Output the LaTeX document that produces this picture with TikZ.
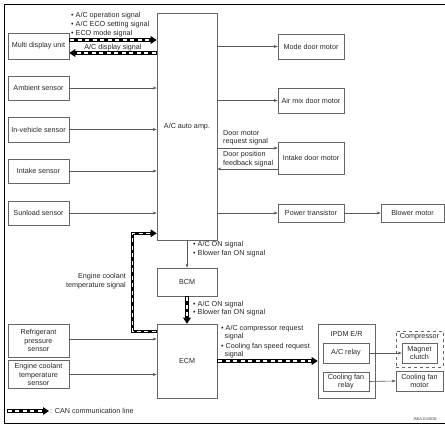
\documentclass[tikz,border=0pt]{standalone}
\usepackage{fontspec}
\setmainfont{Liberation Sans}
\usetikzlibrary{arrows.meta,calc}
\newcommand{\fsz}{\fontsize{7.2}{8.5}\selectfont}
\tikzset{
  box/.style={draw=black!60, line width=0.6pt, minimum width=61pt, minimum height=25pt,
    inner sep=1pt, align=center, font=\fsz, text=black!85},
  lbl/.style={inner sep=0pt, font=\fsz, text=black!85},
  arr/.style={draw=black!65, line width=0.6pt, -{Stealth[length=4pt,width=3pt]}},
  can/.style={line width=3.2pt, -{Triangle[length=6pt,width=7.5pt]},
    postaction={draw=white, line width=1.3pt, dash pattern=on 4pt off 3.5pt, -, shorten >=7pt, shorten <=0.9pt}},
}
\begin{document}
\begin{tikzpicture}[x=1pt,y=-1pt]
\useasboundingbox (0,0) rectangle (445,427);
\draw[line width=0.9pt] (445,4) -- (4,4) -- (4,423) -- (445,423);

% left column
\node[box, minimum height=26pt] (mdu) at (38.5,46) {Multi display unit};
\node[box, minimum height=24pt] (amb) at (38.5,88) {Ambient sensor};
\node[box] (inv) at (38.5,129.5) {In-vehicle sensor};
\node[box, minimum height=24pt] (intk) at (38.5,171) {Intake sensor};
\node[box, minimum height=24pt] (sun) at (38.5,213) {Sunload sensor};
\node[box, minimum height=33pt] (refr) at (38.5,340.5) {Refrigerant\\pressure\\sensor};
\node[box, minimum height=28pt] (ects) at (38.5,374.5) {Engine coolant\\temperature\\sensor};

% center column
\node[box, minimum width=60pt, minimum height=227pt] (amp) at (187,126.5) {A/C auto amp.};
\node[box, minimum width=60pt, minimum height=28pt] (bcm) at (187,282) {BCM};
\node[box, minimum width=60pt, minimum height=74pt] (ecm) at (187,361) {ECM};

% right column
\node[box, minimum width=66pt] (mode) at (311,46.5) {Mode door motor};
\node[box, minimum width=66pt] (airmix) at (311,100.5) {Air mix door motor};
\node[box, minimum width=66pt, minimum height=32pt] (idm) at (311,158) {Intake door motor};
\node[box, minimum width=66pt, minimum height=18pt] (pt) at (311,213) {Power transistor};
\node[box, minimum width=63pt, minimum height=18pt] (blower) at (412.5,213) {Blower motor};

% IPDM and compressor
\node[box, minimum width=57pt, minimum height=74pt] (ipdm) at (346.5,361) {};
\node[lbl] (ipdml) at (346.5,334) {IPDM E/R};
\node[box, minimum width=46pt, minimum height=20pt] (acr) at (346,353) {A/C relay};
\node[box, minimum width=46pt, minimum height=19pt] (cfr) at (346,381.5) {Cooling fan\\relay};
\node[box, dashed, minimum width=47pt, minimum height=36pt] (comp) at (419.5,349) {};
\node[lbl] (compl) at (419.5,337) {Compressor};
\node[box, minimum width=35pt, minimum height=20pt] (mag) at (419.5,353) {Magnet\\clutch};
\node[box, minimum width=47pt, minimum height=20pt] (cfm) at (419.5,381) {Cooling fan\\motor};

% sensor arrows into amp
\draw[arr] (amb.east) -- (amb.east -| amp.west);
\draw[arr] (inv.east) -- (inv.east -| amp.west);
\draw[arr] (intk.east) -- (intk.east -| amp.west);
\draw[arr] (sun.east) -- (sun.east -| amp.west);
\draw[arr] (refr.east) ++(0,-1.5) coordinate (refrE) -- (refrE -| ecm.west);
\draw[arr] (ects.east) -- (ects.east -| ecm.west);

% amp to actuators
\draw[arr] (mode.west -| amp.east) -- (mode.west);
\draw[arr] (airmix.west -| amp.east) -- (airmix.west);
\coordinate (idmR) at ($(idm.west)+(0,-10)$);
\coordinate (idmF) at ($(idm.west)+(0,11)$);
\draw[arr] (idmR -| amp.east) -- (idmR);
\draw[arr] (idmF) -- (idmF -| amp.east);
\draw[arr] (pt.west -| amp.east) -- (pt.west);
\draw[arr] (pt.east) -- (blower.west);
\draw[arr] (amp.south -| bcm.north) -- (bcm.north);
\draw[arr] (acr.east) -- (mag.west);
\draw[arr] (cfr.east) -- (cfm.west);

% CAN lines
\coordinate (mduA) at ($(mdu.east)+(0,-6)$);
\coordinate (mduB) at ($(mdu.east)+(0,7)$);
\draw[can] (mduA) -- (mduA -| amp.west);
\draw[can] (mduB -| amp.west) -- (mduB);
\draw[can] (bcm.south) -- (ecm.north);
\draw[can] (ecm.east) -- (ipdm.west);
\coordinate (ecmW) at ($(ecm.north west)+(0,8)$);
\coordinate (ampW) at ($(amp.south west)+(0,-7)$);
\draw[can] (ecmW) -- ++(-24,0) |- (ampW);

% labels
\node[lbl, anchor=west] (s1) at (71,16) {• A/C operation signal};
\node[lbl, anchor=west] (s2) at (71,25) {• A/C ECO setting signal};
\node[lbl, anchor=west] (s3) at (71,34) {• ECO mode signal};
\node[lbl] (s4) at (113,48) {A/C display signal};
\node[lbl, anchor=west, align=left] (s5) at (223,138) {Door motor\\request signal};
\node[lbl, anchor=west, align=left] (s6) at (223,159) {Door position\\feedback signal};
\node[lbl, anchor=east, align=right] (s7) at (126,281) {Engine coolant\\temperature signal};
\node[lbl, anchor=west, align=left] (s8) at (193,249) {• A/C ON signal\\• Blower fan ON signal};
\node[lbl, anchor=west, align=left] (s9) at (193,308.5) {• A/C ON signal\\• Blower fan ON signal};
\node[lbl, anchor=west] (s10) at (221,329) {• A/C compressor request};
\node[lbl, anchor=west] (s11) at (224.5,337) {signal};
\node[lbl, anchor=west] (s12) at (221,347) {• Cooling fan speed request};
\node[lbl, anchor=west] (s13) at (224.5,355) {signal};

% legend
\coordinate (lgA) at (7,411);
\coordinate (lgB) at (49,411);
\draw[can] (lgA) -- (lgB);
\node[lbl, anchor=west] (lgT) at (50,411) {: CAN communication line};
\node[inner sep=0pt, font=\fontsize{4}{5}\selectfont, text=black!70, anchor=east] (jm) at (437,419) {JMIA1049GB};
\end{tikzpicture}
\end{document}
